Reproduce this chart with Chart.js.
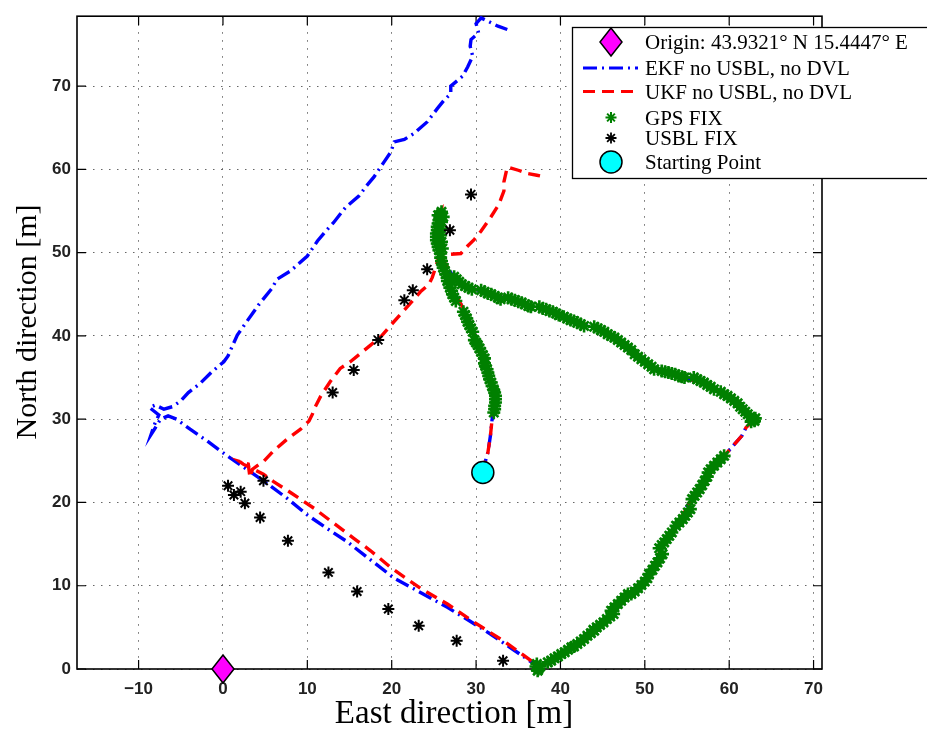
<!DOCTYPE html>
<html><head><meta charset="utf-8">
<script src="https://cdn.jsdelivr.net/npm/chart.js@4/dist/chart.umd.min.js"></script>
<style>html,body{margin:0;padding:0;background:#fff;}#wrap{width:927px;height:734px;position:relative;}</style>
</head><body><div id="wrap"><canvas id="c" width="927" height="734"></canvas></div>
<script>
// ---------- data ----------
const xTickValues = [-10, 0, 10, 20, 30, 40, 50, 60, 70];
const yTickValues = [0, 10, 20, 30, 40, 50, 60, 70];
const xRange = [-17.3, 71.0];
const yRange = [0, 78.4];
const xTitle = 'East direction [m]';
const yTitle = 'North direction [m]';
const legendLabels = ['Origin: 43.9321\u00b0 N 15.4447\u00b0 E', 'EKF no USBL, no DVL', 'UKF no USBL, no DVL', 'GPS FIX', 'USBL FIX', 'Starting Point'];

const originPoint = [[0, 0]];
const startPoint = [[30.8, 23.6]];

// track followed by both filters while GPS was available
const surfaceTrack = [
  [30.8,23.6],[31.0,24.6],[31.4,26.0],[31.7,28.0],[31.9,30.0],[32.2,31.5],[32.3,32.4],[32.0,34.0],[31.5,35.5],[31.0,37.0],
  [30.4,38.7],[29.8,40.3],[29.2,41.9],[28.5,43.3],[27.8,44.5],[27.2,45.5],[26.7,46.8],[26.2,48.2],[25.9,49.8],[25.6,51.5],
  [25.5,53.2],[25.7,54.8],[25.9,55.1],[25.7,53.0],[25.6,51.0],[26.0,49.3],[26.6,48.2],[27.2,47.3],[28.0,46.3],[29.0,45.9],
  [30.5,45.4],[31.7,45.0],[33.3,44.6],[34.9,44.1],[36.7,43.6],[38.5,43.1],[40.0,42.6],[41.6,41.9],[43.2,41.3],[44.8,40.7],
  [46.0,40.0],[47.2,39.1],[48.5,38.2],[49.9,37.1],[51.5,36.0],[53.5,35.3],[55.3,34.8],[57.1,34.3],[58.7,33.4],[60.3,32.4],
  [61.6,31.4],[62.6,30.2],[62.9,29.9],[62.0,29.0],[61.5,28.0],[60.2,26.5],[58.7,24.8],[57.6,23.2],[56.7,21.6],[55.9,20.6],
  [55.1,19.7],[54.3,18.1],[53.3,16.7],[52.3,15.3],[51.7,13.9],[51.1,12.5],[50.2,11.1],[49.2,9.7],[47.6,8.2],[46.2,6.8],
  [44.8,5.4],[43.6,4.4],[42.4,3.4],[41.0,2.4],[39.7,1.6],[38.5,0.9],[37.3,0.2]
];
// EKF after losing GPS
const ekfDive = [
  [36.9,0.6],[34.3,2.4],[31.7,4.2],[29.2,5.8],[26.6,7.4],[23.4,9.2],[20.3,10.9],[17.5,13.1],[14.7,15.3],[12.3,16.9],
  [10.0,18.5],[7.6,20.5],[5.6,22.0],[2.8,24.0],[0.5,25.6],[-1.9,27.4],[-3.9,28.8],[-5.5,30.0],[-6.5,30.4],[-7.4,30.0],
  [-8.0,29.0],[-8.5,28.2],[-8.1,29.4],[-7.6,30.5],[-8.7,31.4],[-8.0,31.7],[-7.0,31.2],[-6.0,31.5],[-5.0,32.2],[-4.1,33.2],
  [-2.7,34.3],[-1.3,35.7],[0.1,36.9],[0.6,37.6],[0.9,38.3],[1.7,40.1],[2.8,41.7],[3.5,42.7],[4.2,43.7],[5.8,45.7],
  [6.4,46.8],[8.0,47.8],[10.0,49.6],[11.2,51.4],[12.2,52.6],[13.1,53.6],[14.5,55.4],[16.1,56.8],[17.0,58.0],[17.9,59.1],
  [19.1,60.9],[19.9,62.1],[20.3,63.3],[21.5,63.6],[22.6,64.3],[24.2,65.7],[25.4,67.3],[26.2,68.3],[27.0,69.1],[27.0,70.0],
  [28.4,71.2],[29.0,72.3],[29.6,73.6],[29.3,74.8],[29.4,75.6],[30.3,76.4],[30.0,77.5],[30.6,78.2],[31.8,77.6],[32.6,77.2],[33.7,76.8]
];
// UKF after losing GPS
const ukfDive = [
  [36.5,1.0],[33.5,3.2],[29.8,5.6],[26.6,7.8],[23.4,9.7],[20.0,12.1],[17.5,14.2],[15.5,15.7],[13.0,17.6],[10.8,19.3],
  [8.0,21.2],[6.0,22.5],[4.8,23.4],[3.6,24.0],[2.4,24.6],[2.0,24.9],[3.0,24.6],[3.2,23.0],[3.5,24.0],[4.3,24.6],
  [4.8,24.9],[6.0,26.2],[7.6,27.6],[9.2,28.8],[10.2,29.8],[10.6,30.6],[10.8,31.2],[11.6,32.8],[12.7,34.5],[13.9,36.1],
  [15.1,36.9],[16.3,37.9],[17.5,38.9],[18.7,39.9],[19.9,41.3],[21.3,42.9],[22.2,43.9],[23.4,45.3],[24.4,46.2],[24.8,47.0],
  [25.2,48.2],[25.5,49.2],[26.2,49.6],[27.0,49.8],[28.2,49.9],[29.0,50.8],[29.8,51.6],[30.6,52.6],[31.7,54.2],[32.7,55.8],
  [33.0,56.6],[33.3,57.4],[33.3,58.5],[33.7,60.3],[35.0,59.9],[36.1,59.5],[37.2,59.3],[38.1,59.1]
];
const gpsFixes = [
  [32.1,30.8],[32.2,31.2],[32.2,31.6],[32.3,32.0],[32.3,32.4],[32.3,32.8],[32.2,33.2],[32.1,33.5],
  [31.9,34.0],[31.8,34.4],[31.6,34.8],[31.5,35.2],[31.4,35.6],[31.3,36.0],[31.1,36.4],[31.0,36.7],
  [31.0,37.3],[30.8,37.7],[30.6,38.1],[30.4,38.5],[30.2,38.9],[30.0,39.2],[29.8,39.5],
  [29.6,40.5],[29.4,40.9],[29.2,41.3],[29.0,41.7],[28.9,42.1],[28.7,42.5],[28.5,42.9],
  [27.6,44.2],[27.4,44.6],[27.2,45.0],[27.1,45.4],[26.9,45.8],[26.8,46.2],[26.6,46.6],
  [26.6,47.0],[26.4,47.4],[26.3,47.8],[26.1,48.2],[26.0,48.6],[25.9,49.0],[25.8,49.4],
  [25.8,49.9],[25.6,50.3],[25.5,50.7],[25.4,51.1],[25.3,51.5],[25.3,51.9],[25.3,52.3],[25.4,52.7],[25.4,53.1],[25.5,53.5],
  [25.6,53.9],[25.7,54.3],[25.8,54.6],[25.9,54.9],[25.5,54.5],[26.0,50.5],[25.9,51.3],[25.8,52.1],[25.8,52.9],[25.9,53.7],[26.1,54.3],
  [27.4,47.1],[27.7,46.8],[28.0,46.5],[28.3,46.2],[28.7,46.0],[29.1,45.8],[29.5,45.6],
  [30.6,45.5],[31.0,45.3],[31.4,45.1],[31.8,45.0],[32.2,44.8],[32.6,44.6],[32.9,44.4],
  [33.8,44.6],[34.2,44.4],[34.6,44.3],[35.0,44.1],[35.4,44.0],[35.8,43.8],[36.2,43.6],[36.5,43.5],
  [37.5,43.5],[37.9,43.3],[38.3,43.2],[38.7,43.0],[39.1,42.9],[39.5,42.7],[39.8,42.5],
  [40.4,42.3],[40.8,42.1],[41.2,41.9],[41.6,41.8],[42.0,41.6],[42.4,41.4],[42.8,41.2],
  [44.0,41.1],[44.4,40.9],[44.8,40.7],[45.2,40.5],[45.6,40.2],[46.0,40.0],
  [46.4,39.8],[46.8,39.5],[47.2,39.2],[47.6,38.9],[48.0,38.6],[48.4,38.3],
  [48.8,37.8],[49.2,37.5],[49.6,37.2],[50.0,36.9],[50.4,36.6],[50.8,36.3],[51.1,36.0],
  [52.0,35.8],[52.4,35.7],[52.8,35.6],[53.2,35.5],[53.6,35.4],[54.0,35.2],[54.4,35.1],[54.7,35.0],
  [55.8,35.0],[56.2,34.8],[56.6,34.6],[57.0,34.4],[57.4,34.1],[57.8,33.9],[58.2,33.6],
  [59.0,33.3],[59.4,33.0],[59.8,32.8],[60.2,32.5],[60.6,32.2],[61.0,31.9],[61.3,31.5],[61.6,31.2],[61.9,30.9],[62.2,30.6],
  [62.5,30.3],[62.8,30.0],[63.0,29.8],[62.6,29.7],[63.1,30.1],
  [59.4,25.6],[59.0,25.2],[58.6,24.8],[58.2,24.4],[57.8,24.0],[57.5,23.6],
  [57.4,23.1],[57.1,22.6],[56.8,22.1],[56.5,21.6],[56.2,21.2],[55.9,20.8],[55.6,20.4],
  [55.4,19.2],[55.1,18.8],[54.8,18.4],[54.5,18.0],[54.1,17.6],[53.7,17.2],
  [53.2,16.4],[52.9,16.0],[52.6,15.6],[52.3,15.2],[52.0,14.9],[51.7,14.5],
  [52.1,13.8],[51.8,13.3],[51.5,12.8],[51.2,12.4],[50.9,11.9],[50.5,11.4],
  [50.3,10.9],[50.0,10.5],[49.6,10.1],[49.2,9.7],[48.8,9.3],[48.4,9.0],
  [48.0,9.0],[47.6,8.6],[47.2,8.2],[46.8,7.8],[46.4,7.4],[46.0,7.0],
  [46.3,6.6],[45.9,6.3],[45.5,6.0],[45.1,5.6],[44.7,5.3],[44.3,5.0],[43.9,4.7],
  [44.0,4.6],[43.6,4.3],[43.2,4.0],[42.8,3.6],[42.4,3.3],[42.0,3.0],[41.6,2.7],
  [41.3,2.6],[40.9,2.3],[40.5,2.0],[40.1,1.8],[39.7,1.5],[39.3,1.3],[38.9,1.0],[38.5,0.8],
  [37.1,0.3],[37.4,0.0],[37.6,0.3],[37.3,-0.2],[37.2,0.6]
];
const usblFixes = [
  [0.6,22.0],[1.3,20.9],[2.1,21.3],[2.6,19.9],[4.4,18.2],[4.8,22.6],[7.7,15.4],[12.5,11.6],[15.9,9.3],[19.6,7.2],
  [23.2,5.2],[27.7,3.4],[33.2,1.0],[13.0,33.2],[15.5,35.9],[18.4,39.5],[21.5,44.3],[22.5,45.5],[24.2,48.0],[26.9,52.7],[29.4,57.0]
];

// ---------- chart ----------
const toXY = a => a.map(([x, y]) => ({x, y}));
const SERIF = '"Liberation Serif", "Times New Roman", serif';
const SANS = '"Liberation Sans", Arial, Helvetica, sans-serif';

function diamondCanvas(w, h) {
  const c = document.createElement('canvas');
  c.width = w + 4; c.height = h + 4;
  const g = c.getContext('2d');
  g.beginPath();
  g.moveTo(c.width / 2, 2); g.lineTo(c.width - 2, c.height / 2);
  g.lineTo(c.width / 2, c.height - 2); g.lineTo(2, c.height / 2); g.closePath();
  g.fillStyle = '#ff00ff'; g.fill();
  g.lineWidth = 1.5; g.strokeStyle = '#000'; g.stroke();
  return c;
}
const diamond = diamondCanvas(22, 28);

const EKF_DASH = [14, 5, 2, 5];
const UKF_DASH = [12, 7];

const decor = {
  id: 'decor',
  beforeDatasetsDraw(chart) {
    const {ctx, chartArea: a, scales: {x, y}} = chart;
    ctx.save();
    ctx.strokeStyle = '#000';
    ctx.lineWidth = 1.2;
    ctx.beginPath();
    const L = 9;
    xTickValues.forEach(v => {
      const px = x.getPixelForValue(v);
      ctx.moveTo(px, a.bottom); ctx.lineTo(px, a.bottom - L);
      ctx.moveTo(px, a.top); ctx.lineTo(px, a.top + L);
    });
    yTickValues.forEach(v => {
      const py = y.getPixelForValue(v);
      ctx.moveTo(a.left, py); ctx.lineTo(a.left + L, py);
      ctx.moveTo(a.right, py); ctx.lineTo(a.right - L, py);
    });
    ctx.stroke();
    ctx.lineWidth = 1.6;
    ctx.strokeRect(a.left, a.top, a.right - a.left, a.bottom - a.top);
    ctx.restore();
  },
  afterDraw(chart) {
    const ctx = chart.ctx;
    ctx.save();
    // axis titles
    ctx.fillStyle = '#000';
    ctx.font = '33px ' + SERIF;
    ctx.textAlign = 'center'; ctx.textBaseline = 'alphabetic';
    ctx.fillText(xTitle, 454, 723);
    ctx.save();
    ctx.translate(36, 322); ctx.rotate(-Math.PI / 2);
    ctx.font = '30px ' + SERIF;
    ctx.fillText(yTitle, 0, 0);
    ctx.restore();

    // legend
    const bx = 572, by = 27, bw = 360, bh = 151;
    ctx.fillStyle = '#fff'; ctx.fillRect(bx, by, bw, bh);
    ctx.strokeStyle = '#000'; ctx.lineWidth = 1.3;
    ctx.strokeRect(bx + 0.5, by + 0.5, bw, bh);
    const rows = [42, 68, 91.5, 117.5, 138, 162];
    const mx = 611, lx0 = 583, lx1 = 638, tx = 645;
    ctx.drawImage(diamond, mx - diamond.width / 2, rows[0] - diamond.height / 2);
    ctx.lineWidth = 3.2;
    ctx.setLineDash(EKF_DASH); ctx.strokeStyle = '#0000ff';
    ctx.beginPath(); ctx.moveTo(lx0, rows[1]); ctx.lineTo(lx1, rows[1]); ctx.stroke();
    ctx.setLineDash(UKF_DASH); ctx.strokeStyle = '#ff0000';
    ctx.beginPath(); ctx.moveTo(lx0, rows[2]); ctx.lineTo(lx1, rows[2]); ctx.stroke();
    ctx.setLineDash([]);
    const star = (cx, cy, r, color, w) => {
      ctx.strokeStyle = color; ctx.lineWidth = w;
      ctx.beginPath();
      for (let k = 0; k < 4; k++) {
        const ang = k * Math.PI / 4;
        ctx.moveTo(cx - Math.cos(ang) * r, cy - Math.sin(ang) * r);
        ctx.lineTo(cx + Math.cos(ang) * r, cy + Math.sin(ang) * r);
      }
      ctx.stroke();
    };
    star(mx, rows[3], 5.5, '#008000', 2);
    star(mx, rows[4], 5.5, '#000', 1.8);
    ctx.beginPath(); ctx.arc(mx, rows[5], 11, 0, Math.PI * 2);
    ctx.fillStyle = '#00ffff'; ctx.fill();
    ctx.lineWidth = 1.5; ctx.strokeStyle = '#000'; ctx.stroke();
    ctx.fillStyle = '#000';
    ctx.font = '21px ' + SERIF;
    ctx.textAlign = 'left'; ctx.textBaseline = 'alphabetic';
    const labels = chart.data.datasets.slice().sort((p, q) => p.legendIndex - q.legendIndex).map(d => d.label);
    labels.forEach((t, i) => ctx.fillText(t, tx, rows[i] + 7));
    ctx.restore();
  }
};

const tickLabel = v => (v < 0 ? '\u2212' + Math.abs(v) : String(v));

new Chart(document.getElementById('c'), {
  type: 'scatter',
  data: {
    datasets: [
      {label: legendLabels[5], legendIndex: 5, data: toXY(startPoint), pointStyle: 'circle', pointRadius: 11,
       pointBackgroundColor: '#00ffff', pointBorderColor: '#000', pointBorderWidth: 1.5, order: 0, clip: false},
      {label: legendLabels[0], legendIndex: 0, data: toXY(originPoint), pointStyle: diamond, pointRadius: 12, order: 1, clip: false},
      {label: legendLabels[4], legendIndex: 4, data: toXY(usblFixes), pointStyle: 'star', pointRadius: 6,
       pointBorderColor: '#000', pointBorderWidth: 2, order: 2, clip: false},
      {label: legendLabels[3], legendIndex: 3, data: toXY(gpsFixes), pointStyle: 'star', pointRadius: 6.5,
       pointBorderColor: '#008000', pointBorderWidth: 2.6, order: 3, clip: false},
      {label: legendLabels[2], legendIndex: 2, data: toXY(surfaceTrack.concat(ukfDive)), showLine: true,
       borderColor: '#ff0000', borderWidth: 3.4, borderDash: UKF_DASH, pointRadius: 0, order: 4, clip: false},
      {label: legendLabels[1], legendIndex: 1, data: toXY(surfaceTrack.concat(ekfDive)), showLine: true,
       borderColor: '#0000ff', borderWidth: 3.4, borderDash: EKF_DASH, pointRadius: 0, order: 5, clip: false}
    ]
  },
  options: {
    responsive: false,
    animation: false,
    events: [],
    layout: {padding: {top: 10, right: 105, left: 0, bottom: 0}},
    plugins: {legend: {display: false}, tooltip: {enabled: false}},
    scales: {
      x: {
        type: 'linear', min: xRange[0], max: xRange[1],
        afterBuildTicks: s => { s.ticks = xTickValues.map(v => ({value: v})); },
        afterFit: s => { s.height = 65; },
        grid: {color: 'rgba(0,0,0,0.6)', lineWidth: 1, drawTicks: false},
        border: {display: false, dash: [1.5, 6.5]},
        ticks: {padding: 10, autoSkip: false, maxRotation: 0, color: '#222',
                font: {family: SANS, size: 17, weight: 'bold'}, callback: tickLabel}
      },
      y: {
        type: 'linear', min: yRange[0], max: yRange[1],
        afterBuildTicks: s => { s.ticks = yTickValues.map(v => ({value: v})); },
        afterFit: s => { s.width = 77; },
        grid: {color: 'rgba(0,0,0,0.6)', lineWidth: 1, drawTicks: false},
        border: {display: false, dash: [1.5, 6.5]},
        ticks: {padding: 6, autoSkip: false, color: '#222',
                font: {family: SANS, size: 17, weight: 'bold'}, callback: tickLabel}
      }
    }
  },
  plugins: [decor]
});
</script>
</body></html>
